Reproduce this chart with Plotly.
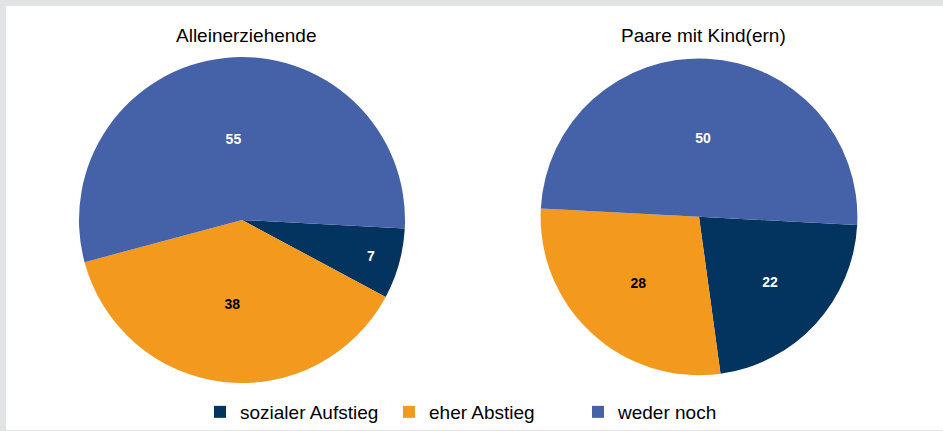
import plotly.graph_objects as go

categories = ["sozialer Aufstieg", "eher Abstieg", "weder noch"]
alleinerziehende = [7, 38, 55]
paare_mit_kind = [22, 28, 50]
titles = ["Alleinerziehende", "Paare mit Kind(ern)"]
colors = ["#03335F", "#F39A1E", "#4561A8"]
text_colors = ["white", "black", "white"]

W, H = 943, 431

fig = go.Figure()
fig.add_trace(go.Pie(
    labels=categories, values=alleinerziehende, sort=False, direction="clockwise",
    rotation=93, marker=dict(colors=colors, line=dict(width=0)),
    texttemplate="<b>%{value}</b>", textposition="inside", insidetextorientation="horizontal",
    insidetextfont=dict(color=text_colors, size=14, family="Liberation Sans, Arial"),
    domain=dict(x=[79 / W, 405 / W], y=[1 - 384 / H, 1 - 57 / H]),
    hoverinfo="label+value", showlegend=True,
))
fig.add_trace(go.Pie(
    labels=categories, values=paare_mit_kind, sort=False, direction="clockwise",
    rotation=93, marker=dict(colors=colors, line=dict(width=0)),
    texttemplate="<b>%{value}</b>", textposition="inside", insidetextorientation="horizontal",
    insidetextfont=dict(color=text_colors, size=14, family="Liberation Sans, Arial"),
    domain=dict(x=[540 / W, 858 / W], y=[1 - 376 / H, 1 - 58.5 / H]),
    hoverinfo="label+value", showlegend=False,
))

fig.update_layout(
    width=W, height=H,
    margin=dict(l=0, r=0, t=0, b=0),
    paper_bgcolor="#E2E3E5",
    plot_bgcolor="white",
    font=dict(family="Liberation Sans, Arial", color="black"),
    shapes=[dict(type="rect", xref="paper", yref="paper", x0=6 / W, x1=1, y0=0, y1=1 - 6 / H,
                 fillcolor="white", line=dict(width=0), layer="below")],
    annotations=[
        dict(text=titles[0], x=246 / W, y=1 - 36 / H, xref="paper", yref="paper",
             showarrow=False, font=dict(size=19), xanchor="center", yanchor="middle"),
        dict(text=titles[1], x=703 / W, y=1 - 36 / H, xref="paper", yref="paper",
             showarrow=False, font=dict(size=19), xanchor="center", yanchor="middle"),
    ],
    legend=dict(orientation="h", x=200 / W, xanchor="left", y=1 - 413 / H, yanchor="middle",
                font=dict(size=19), bgcolor="rgba(0,0,0,0)", traceorder="normal",
                entrywidth=144, entrywidthmode="pixels"),
)

fig.write_html("out.html", config={"displayModeBar": False},
               post_script="document.body.style.margin='0';document.body.style.overflow='hidden';")
